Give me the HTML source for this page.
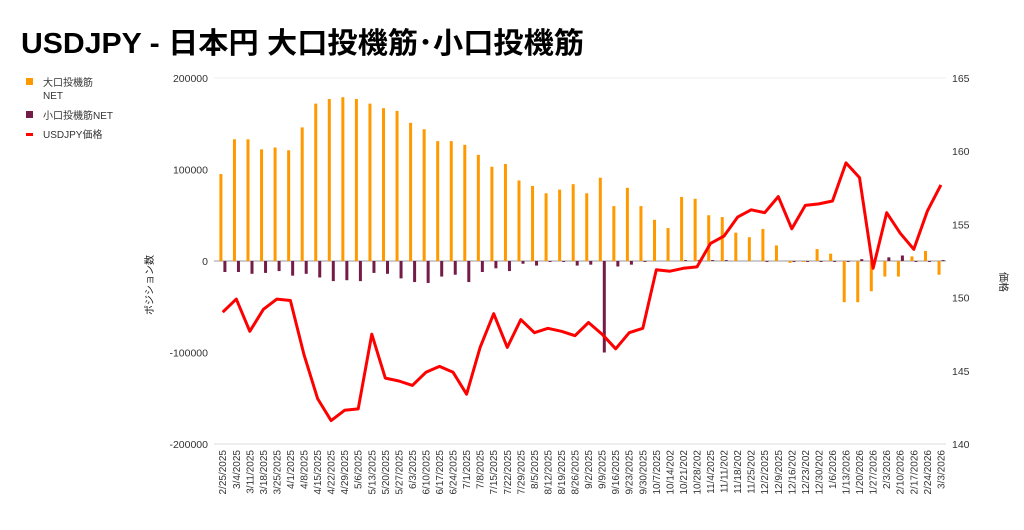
<!DOCTYPE html>
<html><head><meta charset="utf-8"><style>
body{margin:0;background:#fff;width:1024px;height:525px;overflow:hidden;font-family:"Liberation Sans","Noto Sans CJK JP",sans-serif}
</style></head><body>
<svg id="c" width="1024" height="525" xmlns="http://www.w3.org/2000/svg" font-family="Liberation Sans, Noto Sans CJK JP, sans-serif">
<text x="21" y="53" font-size="29" font-weight="bold" fill="#000" textLength="563" lengthAdjust="spacingAndGlyphs">USDJPY - 日本円 大口投機筋･小口投機筋</text>
<rect x="26" y="78" width="7" height="7" fill="#ff9900"/>
<text x="43" y="86" font-size="10" fill="#333">大口投機筋</text>
<text x="43" y="99" font-size="10" fill="#333">NET</text>
<rect x="26" y="111" width="7" height="7" fill="#741b47"/>
<text x="43" y="119" font-size="10" fill="#333">小口投機筋NET</text>
<rect x="26" y="133" width="7" height="3" fill="#ff0000"/>
<text x="43" y="138" font-size="10" fill="#333">USDJPY価格</text>
<text transform="translate(153,285) rotate(-90)" font-size="10" text-anchor="middle" fill="#222">ポジション数</text>
<text transform="translate(1000,282) rotate(90)" font-size="10" text-anchor="middle" fill="#222">価格</text>
<g id="g"></g>
</svg>
<script>
var L=[95,133,133,122,124,121,146,172,177,179,177,172,167,164,151,144,131,131,127,116,103,106,88,82,74,78,84,74,91,60,80,60,45,36,70,68,50,48,31,26,35,17,-2,-1,13,8,-45,-45,-33,-17,-17,5,11,-15];
var S=[-12,-12,-14,-13,-11,-16,-14,-18,-22,-21,-22,-13,-14,-19,-23,-24,-17,-15,-23,-12,-8,-11,-3,-5,-1,-1,-5,-4,-100,-6,-4,-1,0,0,1,1,1,1,0,0,-1,0,-1,-1,-1,-1,-1,2,0,4,6,-1,-1,1];
var P=[149.0,149.9,147.7,149.2,149.9,149.8,146.1,143.1,141.6,142.3,142.4,147.5,144.5,144.3,144.0,144.9,145.3,144.9,143.4,146.6,148.9,146.6,148.5,147.6,147.9,147.7,147.4,148.3,147.5,146.5,147.6,147.9,151.9,151.8,152.0,152.1,153.7,154.2,155.5,156.0,155.8,156.9,154.7,156.3,156.4,156.6,159.2,158.2,152.0,155.8,154.4,153.3,155.9,157.7];
var D=["2/25/2025","3/4/2025","3/11/2025","3/18/2025","3/25/2025","4/1/2025","4/8/2025","4/15/2025","4/22/2025","4/29/2025","5/6/2025","5/13/2025","5/20/2025","5/27/2025","6/3/2025","6/10/2025","6/17/2025","6/24/2025","7/1/2025","7/8/2025","7/15/2025","7/22/2025","7/29/2025","8/5/2025","8/12/2025","8/19/2025","8/26/2025","9/2/2025","9/9/2025","9/16/2025","9/23/2025","9/30/2025","10/7/2025","10/14/202","10/21/202","10/28/202","11/4/2025","11/11/202","11/18/202","11/25/202","12/2/2025","12/9/2025","12/16/202","12/23/202","12/30/202","1/6/2026","1/13/2026","1/20/2026","1/27/2026","2/3/2026","2/10/2026","2/17/2026","2/24/2026","3/3/2026"];
var h='';
function yl(v){return 261-v*0.915;}
function yr(p){return 444-(p-140)*14.64;}
h+='<line x1="214" y1="78" x2="946" y2="78" stroke="#eee"/>';
h+='<line x1="214" y1="444" x2="946" y2="444" stroke="#ddd"/>';
h+='<line x1="214" y1="261" x2="946" y2="261" stroke="#999"/>';
[[200000,78],[100000,169.5],[0,261],[-100000,352.5],[-200000,444]].forEach(function(a){h+='<text x="208" y="'+(a[1]+4)+'" font-size="10.5" text-anchor="end" fill="#333">'+a[0]+'</text>';});
[165,160,155,150,145,140].forEach(function(p){h+='<text x="952" y="'+(yr(p)+4)+'" font-size="10.5" fill="#333">'+p+'</text>';});
var pts=[];
for(var i=0;i<54;i++){var cx=222.7+i*13.55;
 var v=L[i];h+='<rect x="'+(cx-3.3)+'" y="'+Math.min(yl(v),261)+'" width="3" height="'+Math.abs(v*0.915)+'" fill="#ff9900"/>';
 v=S[i];h+='<rect x="'+(cx+0.7)+'" y="'+Math.min(yl(v),261)+'" width="3" height="'+Math.abs(v*0.915)+'" fill="#741b47"/>';
 pts.push(cx.toFixed(1)+','+yr(P[i]).toFixed(1));
 h+='<text transform="translate('+(cx+3.5)+',450) rotate(-90)" font-size="10" text-anchor="end" fill="#333">'+D[i]+'</text>';
}
h+='<polyline points="'+pts.join(' ')+'" fill="none" stroke="#ff0000" stroke-width="3" stroke-linejoin="round"/>';
document.getElementById('g').innerHTML=h;
</script>
</body></html>
